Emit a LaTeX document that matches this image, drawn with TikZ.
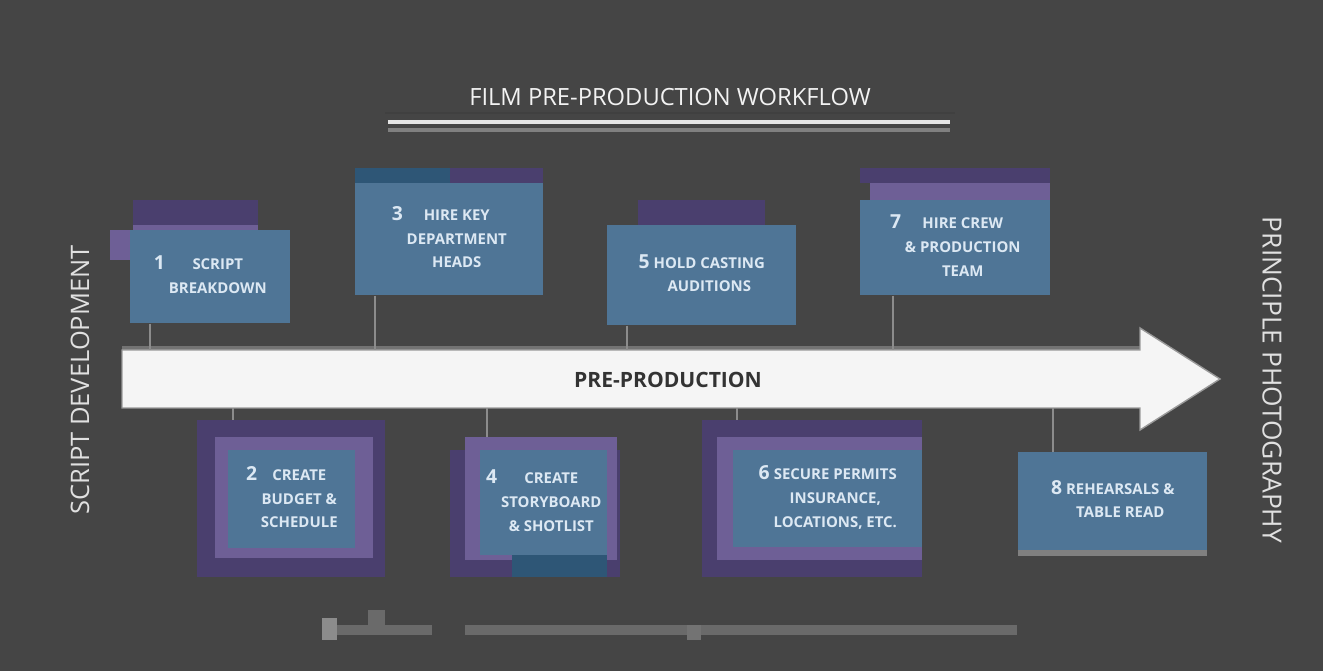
\documentclass[tikz,border=0pt]{standalone}
\usepackage{fontspec}
\setmainfont{Open Sans}
\definecolor{bg}{HTML}{454545}
\definecolor{boxblue}{HTML}{4F7596}
\definecolor{darkblue}{HTML}{2E5676}
\definecolor{purpled}{HTML}{4A3F6E}
\definecolor{purplel}{HTML}{6E5F96}
\definecolor{boxtext}{HTML}{DCE8F3}
\definecolor{conn}{HTML}{8C8C8C}
\definecolor{barc}{HTML}{6A6A6A}
\newcommand\bnum[1]{{\fontsize{11}{13}\selectfont\bfseries #1}}
\begin{document}
\begin{tikzpicture}[x=0.02cm,y=-0.02cm,
  boxnode/.style={fill=boxblue,text=boxtext,inner sep=0pt,anchor=north west,align=center,
     font=\fontsize{8.5}{13.5}\selectfont\bfseries},
  deco/.style={fill=purpled},
  decol/.style={fill=purplel},
  decob/.style={fill=darkblue},
  connline/.style={draw=conn,line width=1.6pt},
  sidelabel/.style={text=white!88!black}]
\fill[bg] (0,0) rectangle (1323,671);
\useasboundingbox (0,0) rectangle (1323,671);

% title
\node[text=white!95!black,font=\fontsize{13.5}{15}\selectfont] (title) at (670,97) {FILM PRE-PRODUCTION WORKFLOW};
\draw[line width=1.5pt,black!75] (385,113) -- (955,113);
\draw[line width=2pt,white!90!black] (388,122) -- (950,122);
\draw[line width=2pt,black!50] (388,130) -- (950,130);

% side labels
\node[sidelabel,rotate=90,font=\fontsize{14.5}{16}\selectfont] (left) at (80,380) {SCRIPT DEVELOPMENT};
\node[sidelabel,rotate=-90,font=\fontsize{15}{16}\selectfont] (right) at (1272,380) {PRINCIPLE PHOTOGRAPHY};

% main arrow
\fill[black!55] (122,346) rectangle (1140,350);
\draw[fill=white!96!black,draw=black!40,line width=0.8pt]
  (122,350) -- (1140,350) -- (1140,328) -- (1220,379) -- (1140,430) -- (1140,408) -- (122,408) -- cycle;
\node[font=\fontsize{12}{14}\selectfont\bfseries,text=black!80] (arrow) at (668,380) {PRE-PRODUCTION};

% arrow attachment points
\coordinate (p1) at (150,350);
\coordinate (p3) at (375,350);
\coordinate (p5) at (627,350);
\coordinate (p7) at (893,350);
\coordinate (p2) at (233,408);
\coordinate (p4) at (487,408);
\coordinate (p6) at (737,408);
\coordinate (p8) at (1053,408);

% decorations behind boxes
\fill[deco] (133,200) rectangle (258,225);
\fill[decol] (133,225) rectangle (258,230);
\fill[decol] (110,230) rectangle (133,260);
\fill[decob] (355,168) rectangle (450,183);
\fill[deco] (450,168) rectangle (543,183);
\fill[deco] (638,200) rectangle (765,225);
\fill[decol] (638,225) rectangle (765,230);
\fill[deco] (860,168) rectangle (1050,183);
\fill[decol] (870,183) rectangle (1050,200);
\fill[deco] (197,420) rectangle (385,577);
\fill[decol] (215,437) rectangle (373,558);
\fill[deco] (450,450) rectangle (620,577);
\fill[decol] (465,437) rectangle (617,560);
\fill[decob] (512,555) rectangle (607,577);
\fill[deco] (702,420) rectangle (922,577);
\fill[decol] (717,437) rectangle (922,560);
\fill[black!50] (1018,550) rectangle (1207,556);

% boxes
\node[boxnode,minimum width=3.2cm,minimum height=1.86cm] (b1) at (130,230)
  {\begin{tabular}{@{}l@{\ }c@{}}\bnum{1} & SCRIPT\\ & BREAKDOWN\end{tabular}};
\node[boxnode,minimum width=3.76cm,minimum height=2.24cm] (b3) at (355,183)
  {\begin{tabular}{@{}l@{\ }c@{}}\bnum{3} & HIRE KEY\\ & DEPARTMENT\\ & HEADS\end{tabular}};
\node[boxnode,minimum width=3.78cm,minimum height=2.0cm] (b5) at (607,225)
  {\begin{tabular}{@{}l@{\ }c@{}}\bnum{5} & HOLD CASTING\\ & AUDITIONS\end{tabular}};
\node[boxnode,minimum width=3.8cm,minimum height=1.9cm] (b7) at (860,200)
  {\begin{tabular}{@{}l@{\ }c@{}}\bnum{7} & HIRE CREW\\ & \& PRODUCTION\\ & TEAM\end{tabular}};
\node[boxnode,minimum width=2.54cm,minimum height=1.96cm] (b2) at (228,450)
  {\begin{tabular}{@{}l@{\ }c@{}}\bnum{2} & CREATE\\ & BUDGET \&\\ & SCHEDULE\end{tabular}};
\node[boxnode,minimum width=2.54cm,minimum height=2.1cm] (b4) at (480,450)
  {\begin{tabular}{@{}l@{\ }c@{}}\bnum{4} & CREATE\\ & STORYBOARD\\ & \& SHOTLIST\end{tabular}};
\node[boxnode,minimum width=3.78cm,minimum height=1.94cm] (b6) at (733,450)
  {\begin{tabular}{@{}l@{\ }c@{}}\bnum{6} & SECURE PERMITS\\ & INSURANCE,\\ & LOCATIONS, ETC.\end{tabular}};
\node[boxnode,minimum width=3.78cm,minimum height=1.96cm] (b8) at (1018,452)
  {\begin{tabular}{@{}l@{\ }c@{}}\bnum{8} & REHEARSALS \&\\ & TABLE READ\end{tabular}};

% connectors
\draw[connline] (b1.south -| p1) -- (p1);
\draw[connline] (b3.south -| p3) -- (p3);
\draw[connline] (b5.south -| p5) -- (p5);
\draw[connline] (b7.south -| p7) -- (p7);
\draw[connline] (p2) -- ++(0,12);
\draw[connline] (p4) -- ++(0,29);
\draw[connline] (p6) -- ++(0,12);
\draw[connline] (p8) -- (b8.north -| p8);

% bottom bars
\fill[barc] (324,625) rectangle (432,635);
\fill[black!45] (322,618) rectangle (337,640);
\fill[barc] (368,610) rectangle (385,625);
\fill[barc] (465,625) rectangle (1017,635);
\fill[black!55] (687,625) rectangle (701,640);
\end{tikzpicture}
\end{document}
